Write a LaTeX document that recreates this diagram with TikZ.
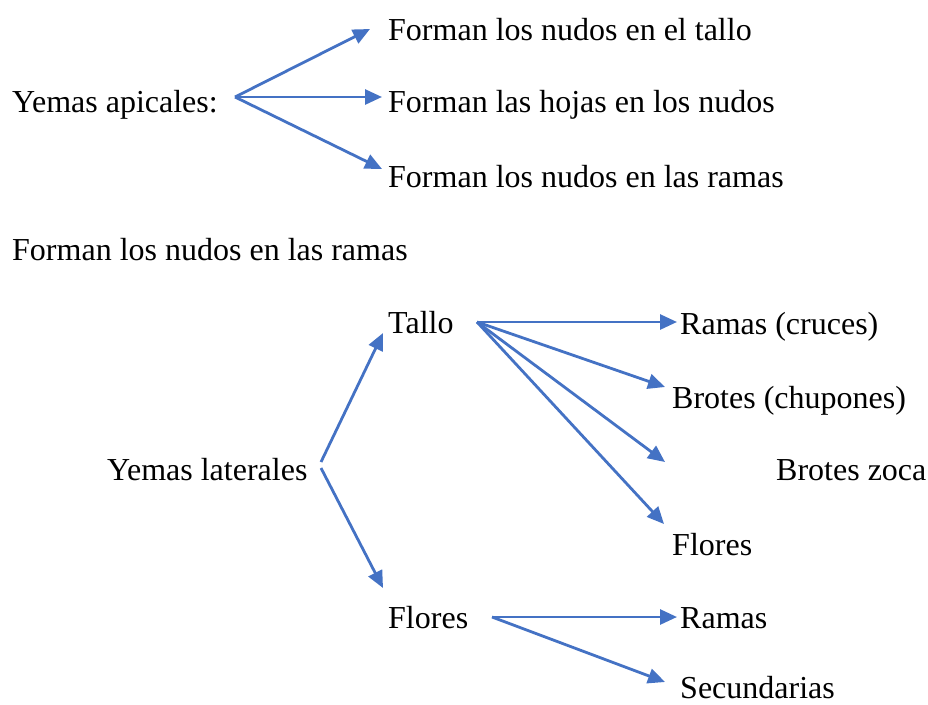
\documentclass[tikz,border=0pt]{standalone}
\usepackage{fontspec}
\setmainfont{Liberation Serif}
\usetikzlibrary{arrows.meta}
\definecolor{arrowblue}{HTML}{4472C4}
\tikzset{
  lbl/.style={anchor=base west, inner sep=0pt, font=\fontsize{32}{38}\selectfont},
  conn/.style={draw=arrowblue, line width=2.8pt, -{Triangle[length=17pt,width=15pt]}, fill=arrowblue}
}
\begin{document}
\begin{tikzpicture}[x=1pt,y=-1pt]
\useasboundingbox (0,0) rectangle (928,704);
% texts
\node[lbl] (ya) at (12,112) {Yemas apicales:};
\node[lbl] (a1) at (388,40) {Forman los nudos en el tallo};
\node[lbl] (a2) at (388,112) {Forman las hojas en los nudos};
\node[lbl] (a3) at (388,187) {Forman los nudos en las ramas};
\node[lbl] (hd) at (12,260) {Forman los nudos en las ramas};
\node[lbl] (yl) at (107,480) {Yemas laterales};
\node[lbl] (ta) at (388,333) {Tallo};
\node[lbl] (fl) at (388,628) {Flores};
\node[lbl] (rc) at (680,334) {Ramas (cruces)};
\node[lbl] (bc) at (672,408) {Brotes (chupones)};
\node[lbl] (bz) at (776,480) {Brotes zoca};
\node[lbl] (f2) at (672,555) {Flores};
\node[lbl] (rm) at (680,628) {Ramas};
\node[lbl] (sc) at (680,698) {Secundarias};
% coordinates
\coordinate (oa) at (235,97);
\coordinate (ta1) at (370,29);
\coordinate (ta2) at (382,97);
\coordinate (ta3) at (382,169);
\coordinate (ol1) at (321,462);
\coordinate (ol2) at (321,468);
\coordinate (tt) at (383,333);
\coordinate (tf) at (383,588);
\coordinate (ot) at (477,322);
\coordinate (t1) at (677,322);
\coordinate (t2) at (665,387);
\coordinate (t3) at (665,462);
\coordinate (t4) at (664,524);
\coordinate (of) at (492,617);
\coordinate (f1) at (677,617);
\coordinate (f3) at (665,682);
% connectors
\draw[conn] (oa) -- (ta1);
\draw[conn] (oa) -- (ta2);
\draw[conn] (oa) -- (ta3);
\draw[conn] (ol1) -- (tt);
\draw[conn] (ol2) -- (tf);
\draw[conn] (ot) -- (t1);
\draw[conn] (ot) -- (t2);
\draw[conn] (ot) -- (t3);
\draw[conn] (ot) -- (t4);
\draw[conn] (of) -- (f1);
\draw[conn] (of) -- (f3);
\end{tikzpicture}
\end{document}
